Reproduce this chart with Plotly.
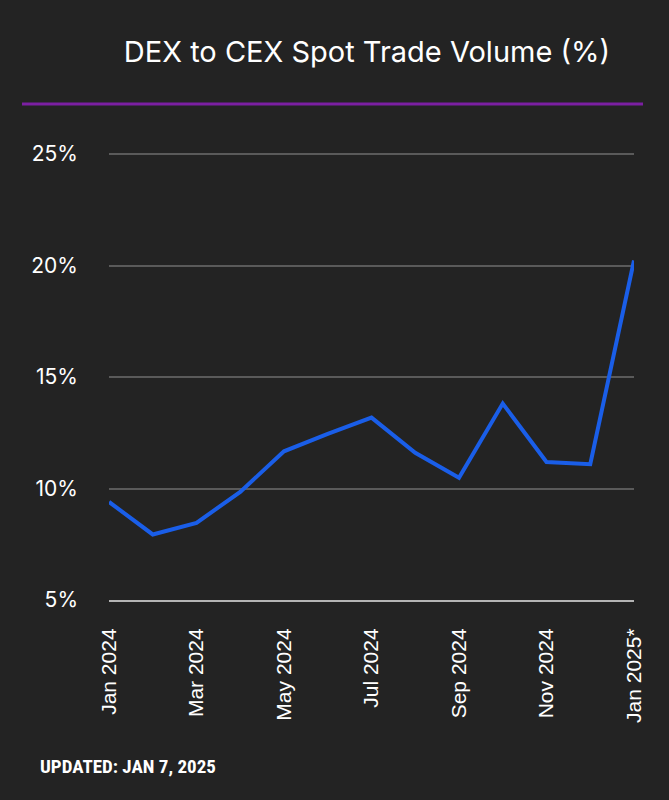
import plotly.graph_objects as go

months = ["Jan 2024", "Feb 2024", "Mar 2024", "Apr 2024", "May 2024", "Jun 2024",
          "Jul 2024", "Aug 2024", "Sep 2024", "Oct 2024", "Nov 2024", "Dec 2024", "Jan 2025*"]
dex_to_cex = [9.40, 7.94, 8.46, 9.85, 11.67, 12.45, 13.18, 11.6, 10.48, 13.81, 11.19, 11.09, 20.23]
tick_labels = ["Jan 2024", "Mar 2024", "May 2024", "Jul 2024", "Sep 2024", "Nov 2024", "Jan 2025*"]
y_ticks = [5, 10, 15, 20, 25]

BG = "#232323"

fig = go.Figure()
fig.add_trace(go.Scatter(
    x=months, y=dex_to_cex, mode="lines",
    line=dict(color="#1a5ee8", width=4),
    hoverinfo="skip",
))

fig.update_layout(
    width=669, height=800,
    paper_bgcolor=BG, plot_bgcolor=BG,
    margin=dict(l=109, r=35, t=153, b=200),
    showlegend=False,
    title=dict(text="DEX to CEX Spot Trade Volume (%)", x=367/669, xanchor="center",
               y=1 - 52/800, yanchor="middle",
               font=dict(family="Inter, Roboto, sans-serif", size=29, color="#ffffff")),
    shapes=[
        dict(type="line", xref="paper", yref="paper", x0=(22-109)/525, x1=(643-109)/525,
             y0=1 + (153-104)/447, y1=1 + (153-104)/447,
             line=dict(color="#7b1fa2", width=3)),
    ],
    annotations=[
        dict(text="<b>UPDATED: JAN 7, 2025</b>", xref="paper", yref="paper",
             x=(38-109)/525, xanchor="left", y=-(767-600)/447, yanchor="middle",
             showarrow=False,
             font=dict(family="Liberation Sans Narrow, Roboto Condensed, DejaVu Sans Condensed, Roboto",
                       size=19, color="#ffffff")),
    ],
)

fig.update_xaxes(
    type="category", range=[0, 12],
    tickmode="array", tickvals=tick_labels, ticktext=tick_labels,
    tickangle=-90, showgrid=False, zeroline=False,
    showline=True, linecolor="#b4b4b4", linewidth=2,
    ticks="", ticklabelstandoff=18,
    tickfont=dict(family="Liberation Sans, Arial, sans-serif", size=21, color="#ffffff"),
)
fig.update_yaxes(
    range=[5, 25.05], tickmode="array", tickvals=y_ticks,
    ticktext=[f"{v}%" for v in y_ticks],
    showgrid=True, gridcolor="#5a5a5a", gridwidth=2, zeroline=False,
    showline=False, ticks="", ticklabelstandoff=30,
    tickfont=dict(family="Inter, Roboto, sans-serif", size=21, color="#ffffff"),
)

fig.write_html("out.html",
               config={"displayModeBar": False},
               post_script="document.body.style.margin='0';document.body.style.background='#232323';")
